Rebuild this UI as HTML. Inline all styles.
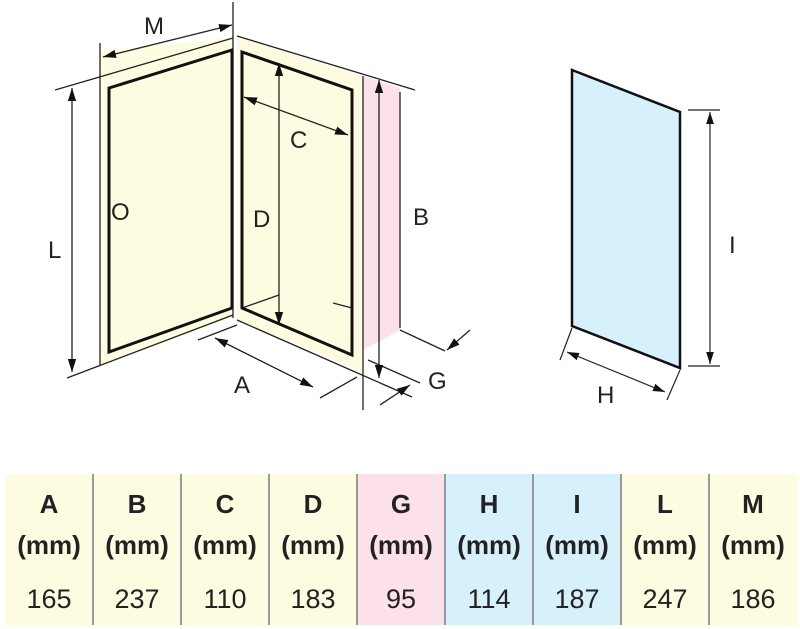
<!DOCTYPE html>
<html><head><meta charset="utf-8"><style>
body{margin:0;background:#fff;width:800px;height:629px;overflow:hidden}
svg{display:block}
text{font-family:"Liberation Sans",sans-serif;fill:#222}
</style></head><body>
<svg width="800" height="629" viewBox="0 0 800 629">
<defs>
<marker id="ah" viewBox="0 0 10 10" refX="10" refY="5" markerWidth="10" markerHeight="10" orient="auto-start-reverse" markerUnits="strokeWidth"><path d="M0,1.8 L10,5 L0,8.2z" fill="#111"/></marker>
</defs>
<polygon points="100,51 233,38 233,318 100,365" fill="#fdfbe0"/>
<polygon points="237,36 363,76 363,372 237,320" fill="#fdfbe0"/>
<polygon points="363,76 400,88 400,330 363,350" fill="#fce0ea"/>
<g stroke="#222" stroke-width="1.3" fill="none">
<line x1="55" y1="90" x2="233" y2="38"/>
<line x1="67" y1="378" x2="233" y2="315"/>
<line x1="100" y1="43" x2="100" y2="365"/>
<line x1="233" y1="2" x2="233" y2="318"/>
<line x1="237" y1="36" x2="415" y2="90"/>
<line x1="237" y1="320" x2="412" y2="397"/>
<line x1="363" y1="76" x2="363" y2="410"/>
<line x1="400" y1="92" x2="400" y2="328"/>
<line x1="400" y1="330" x2="445" y2="351"/>
<line x1="368" y1="360" x2="420" y2="383"/>
<line x1="198" y1="340" x2="237" y2="325"/>
<line x1="320" y1="398" x2="357" y2="377"/>
<line x1="242" y1="308" x2="279" y2="295"/>
<line x1="333" y1="303" x2="352" y2="308"/>
<line x1="72" y1="88" x2="72" y2="372" marker-start="url(#ah)" marker-end="url(#ah)"/>
<line x1="103" y1="57" x2="232" y2="25" marker-start="url(#ah)" marker-end="url(#ah)"/>
<line x1="279" y1="63" x2="279" y2="325" marker-start="url(#ah)" marker-end="url(#ah)"/>
<line x1="244" y1="97" x2="348" y2="135" marker-start="url(#ah)" marker-end="url(#ah)"/>
<line x1="379" y1="80" x2="379" y2="378" marker-start="url(#ah)" marker-end="url(#ah)"/>
<line x1="215" y1="338" x2="313" y2="387" marker-start="url(#ah)" marker-end="url(#ah)"/>
<line x1="470" y1="330" x2="447" y2="350" marker-end="url(#ah)"/>
<line x1="380" y1="405" x2="410" y2="385" marker-end="url(#ah)"/>
</g>
<polygon points="109,88 232,50 232,308 109,352" fill="none" stroke="#111" stroke-width="3"/>
<polygon points="242,52 352,90 352,355 242,308" fill="none" stroke="#111" stroke-width="3"/>
<polygon points="572,70 680,112 680,368 572,326" fill="#d6f0fc" stroke="#111" stroke-width="2.5"/>
<g stroke="#222" stroke-width="1.2">
<line x1="688" y1="110" x2="720" y2="110"/>
<line x1="688" y1="366" x2="720" y2="366"/>
<line x1="710" y1="112" x2="710" y2="364" marker-start="url(#ah)" marker-end="url(#ah)"/>
<line x1="572" y1="328" x2="560" y2="360"/>
<line x1="680" y1="370" x2="667" y2="400"/>
<line x1="567" y1="352" x2="665" y2="392" marker-start="url(#ah)" marker-end="url(#ah)"/>
</g>
<g font-size="24">
<text x="144" y="34">M</text>
<text x="48" y="258">L</text>
<text x="111" y="220">O</text>
<text x="253" y="227">D</text>
<text x="290" y="148">C</text>
<text x="413" y="225">B</text>
<text x="234" y="393">A</text>
<text x="428" y="389">G</text>
<text x="729" y="253">I</text>
<text x="597" y="403">H</text>
</g>
<rect x="5" y="474" width="352" height="151" fill="#fdfbe0"/>
<rect x="357" y="474" width="88" height="151" fill="#fce0ea"/>
<rect x="445" y="474" width="176" height="151" fill="#d6f0fc"/>
<rect x="621" y="474" width="176" height="151" fill="#fdfbe0"/>
<g stroke="#999" stroke-width="2">
<line x1="93" y1="474" x2="93" y2="625"/><line x1="181" y1="474" x2="181" y2="625"/>
<line x1="269" y1="474" x2="269" y2="625"/><line x1="357" y1="474" x2="357" y2="625"/>
<line x1="445" y1="474" x2="445" y2="625"/><line x1="533" y1="474" x2="533" y2="625"/>
<line x1="621" y1="474" x2="621" y2="625"/><line x1="709" y1="474" x2="709" y2="625"/>
</g>
<g text-anchor="middle" font-size="26">
<g font-weight="bold">
<text x="49" y="513">A</text><text x="137" y="513">B</text><text x="225" y="513">C</text><text x="313" y="513">D</text><text x="401" y="513">G</text><text x="489" y="513">H</text><text x="577" y="513">I</text><text x="665" y="513">L</text><text x="753" y="513">M</text>
<text x="49" y="554">(mm)</text><text x="137" y="554">(mm)</text><text x="225" y="554">(mm)</text><text x="313" y="554">(mm)</text><text x="401" y="554">(mm)</text><text x="489" y="554">(mm)</text><text x="577" y="554">(mm)</text><text x="665" y="554">(mm)</text><text x="753" y="554">(mm)</text>
</g>
<g font-size="27">
<text x="49" y="608">165</text><text x="137" y="608">237</text><text x="225" y="608">110</text><text x="313" y="608">183</text><text x="401" y="608">95</text><text x="489" y="608">114</text><text x="577" y="608">187</text><text x="665" y="608">247</text><text x="753" y="608">186</text>
</g>
</g>
</svg>
</body></html>
